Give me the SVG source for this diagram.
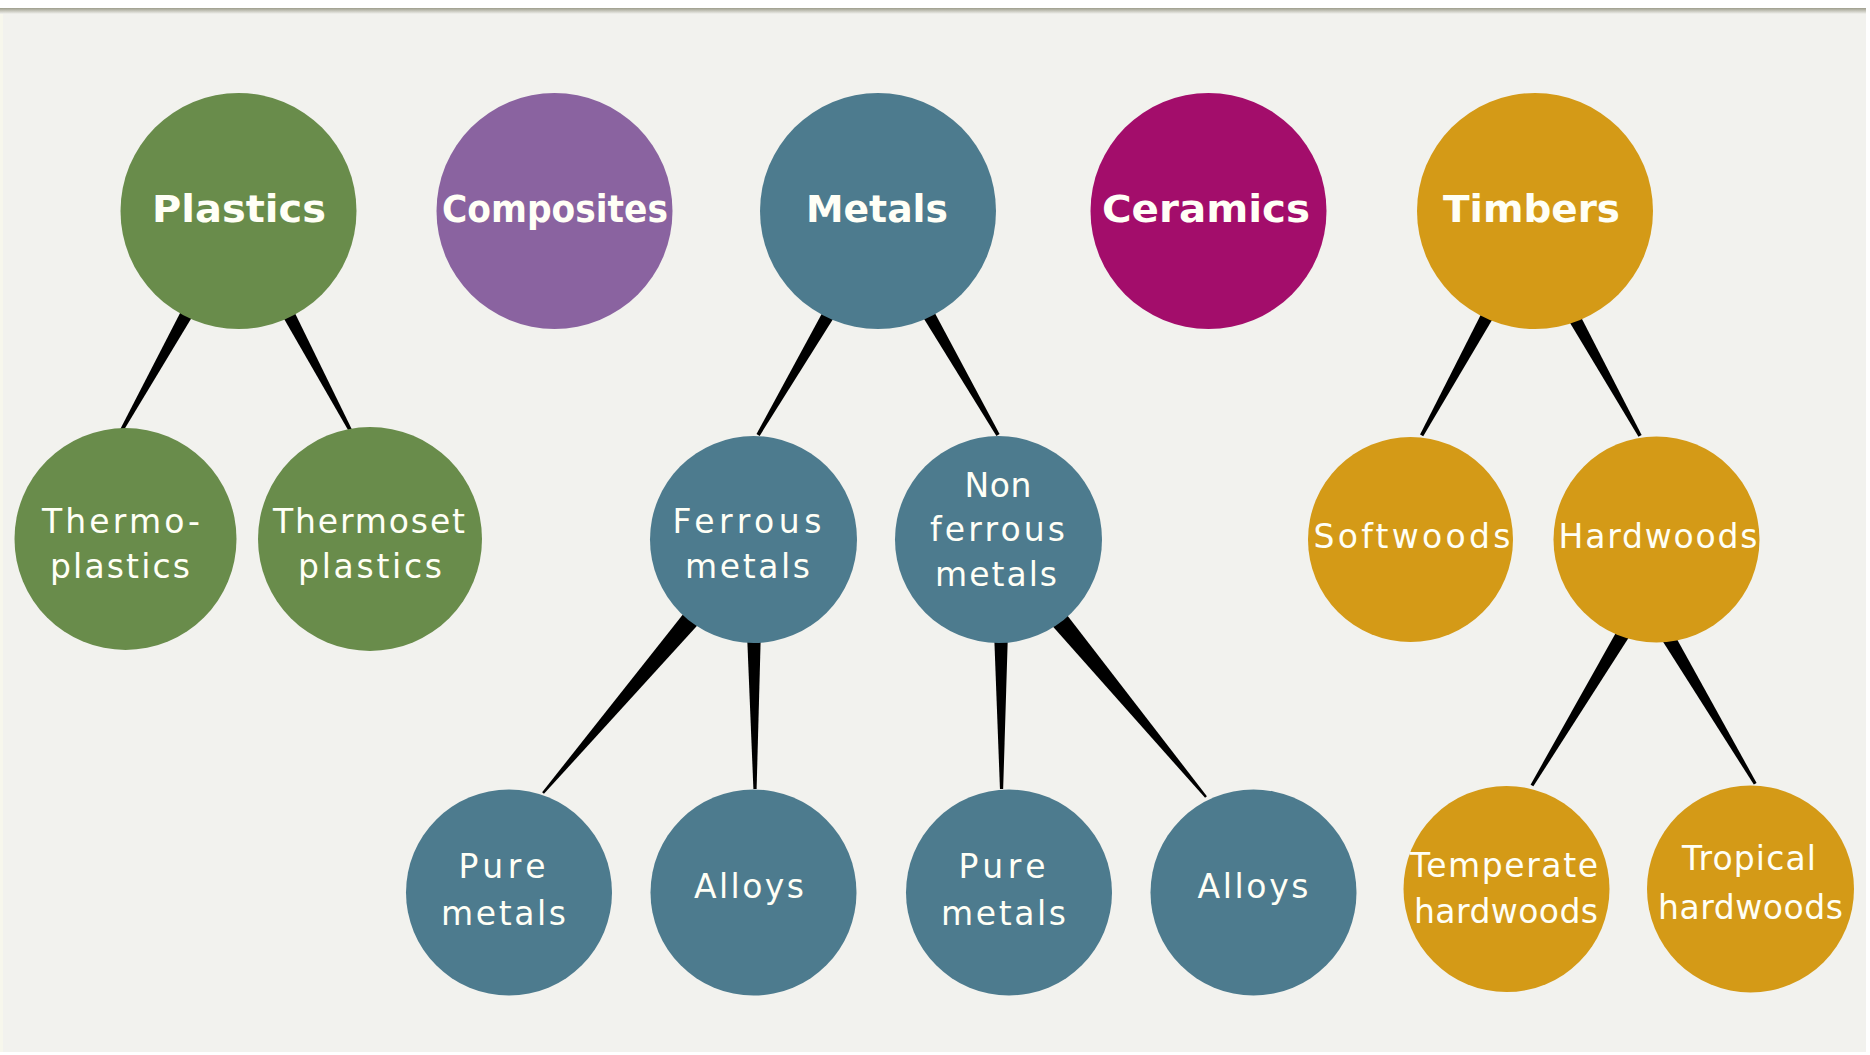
<svg xmlns="http://www.w3.org/2000/svg" width="1870" height="1055" viewBox="0 0 1870 1055">
  <defs>
    <linearGradient id="topEdge" x1="0" y1="0" x2="0" y2="1">
      <stop offset="0" stop-color="#9d9d8c"/>
      <stop offset="1" stop-color="#f2f2ee"/>
    </linearGradient>
    <!-- tapered links: wide at the parent end, thin at the child end; scaled along x to their length -->
    <polygon id="wedge" points="0,-6.5 1,-1.8 1,1.8 0,6.5" fill="#000"/>
    <polygon id="wedgeWide" points="0,-9.5 1,-1.2 1,1.2 0,9.5" fill="#000"/>
    <polygon id="wedgeStem" points="0,-7 1,-1.6 1,1.6 0,7" fill="#000"/>
  </defs>
  <style>
    .plastics { fill: #698c4b; }
    .composites { fill: #8a63a0; }
    .metals { fill: #4d7b8e; }
    .ceramics { fill: #a30d6b; }
    .timbers { fill: #d49a17; }
    text { fill: #fffff6; text-anchor: middle; }
    .t1 { font-family: "DejaVu Sans", "Liberation Sans", sans-serif; font-weight: bold; font-size: 37px; }
    .t2 { font-family: "DejaVu Sans", "Liberation Sans", sans-serif; font-size: 33px; }
  </style>

  <!-- page frame -->
  <rect x="0" y="0" width="1870" height="1055" fill="#ffffff"/>
  <rect x="0" y="8" width="1866" height="1044" fill="#f2f2ee"/>
  <rect x="0" y="8" width="1866" height="6" fill="url(#topEdge)"/>
  <rect x="0" y="14" width="3" height="1038" fill="#f7f7ec"/>

  <!-- connectors -->
  <g id="connectors">
    <use href="#wedge" transform="translate(190.8,306.5) rotate(119.15) scale(141.4,1)"/>
    <use href="#wedge" transform="translate(284.4,306.4) rotate(62) scale(139.9,1)"/>
    <use href="#wedge" transform="translate(833.1,306.6) rotate(120.3) scale(148.7,1)"/>
    <use href="#wedge" transform="translate(924,306.6) rotate(60.05) scale(148.2,1)"/>
    <use href="#wedgeWide" transform="translate(697.8,610.9) rotate(130.35) scale(239,1)"/>
    <use href="#wedgeStem" transform="translate(753.9,631) rotate(89.6) scale(158,1)"/>
    <use href="#wedgeStem" transform="translate(1001,631) rotate(89.8) scale(158,1)"/>
    <use href="#wedgeWide" transform="translate(1053.3,612.8) rotate(50.35) scale(239.3,1)"/>
    <use href="#wedge" transform="translate(1491.8,307.5) rotate(118.76) scale(145.8,1)"/>
    <use href="#wedge" transform="translate(1570.8,311.5) rotate(60.9) scale(142.4,1)"/>
    <use href="#wedgeStem" transform="translate(1626.8,627.7) rotate(121) scale(184.1,1)"/>
    <use href="#wedgeStem" transform="translate(1664.9,631.7) rotate(59.3) scale(176.9,1)"/>
  </g>

  <!-- top level materials -->
  <g id="plastics">
    <circle class="plastics" cx="238.5" cy="211" r="118"/>
    <text class="t1" x="239" y="222" textLength="174" lengthAdjust="spacingAndGlyphs">Plastics</text>
  </g>
  <g id="composites">
    <circle class="composites" cx="554.5" cy="211" r="118"/>
    <text class="t1" x="555" y="222" textLength="226" lengthAdjust="spacingAndGlyphs">Composites</text>
  </g>
  <g id="metals">
    <circle class="metals" cx="878" cy="211" r="118"/>
    <text class="t1" x="877" y="222" textLength="142" lengthAdjust="spacingAndGlyphs">Metals</text>
  </g>
  <g id="ceramics">
    <circle class="ceramics" cx="1208.5" cy="211" r="118"/>
    <text class="t1" x="1206" y="222" textLength="208" lengthAdjust="spacingAndGlyphs">Ceramics</text>
  </g>
  <g id="timbers">
    <circle class="timbers" cx="1535" cy="211" r="118"/>
    <text class="t1" x="1531.5" y="222" textLength="177" lengthAdjust="spacingAndGlyphs">Timbers</text>
  </g>

  <!-- plastics -->
  <g id="thermoplastics">
    <circle class="plastics" cx="125.5" cy="539" r="111"/>
    <text class="t2" x="121" y="533" textLength="158">Thermo-</text>
    <text class="t2" x="120" y="578" textLength="140">plastics</text>
  </g>
  <g id="thermoset-plastics">
    <circle class="plastics" cx="370" cy="539" r="112"/>
    <text class="t2" x="369" y="533" textLength="192">Thermoset</text>
    <text class="t2" x="370" y="578" textLength="144">plastics</text>
  </g>

  <!-- metals -->
  <g id="ferrous-metals">
    <circle class="metals" cx="753.5" cy="539.5" r="103.5"/>
    <text class="t2" x="747" y="533" textLength="149">Ferrous</text>
    <text class="t2" x="747.5" y="578" textLength="125">metals</text>
  </g>
  <g id="non-ferrous-metals">
    <circle class="metals" cx="998.5" cy="539.5" r="103.5"/>
    <text class="t2" x="998" y="497" textLength="67">Non</text>
    <text class="t2" x="997.5" y="541" textLength="135">ferrous</text>
    <text class="t2" x="996" y="586" textLength="122">metals</text>
  </g>
  <g id="ferrous-pure-metals">
    <circle class="metals" cx="509" cy="892.5" r="103"/>
    <text class="t2" x="502" y="878" textLength="87">Pure</text>
    <text class="t2" x="503.5" y="925" textLength="125">metals</text>
  </g>
  <g id="ferrous-alloys">
    <circle class="metals" cx="753.5" cy="892.5" r="103"/>
    <text class="t2" x="749" y="898" textLength="110">Alloys</text>
  </g>
  <g id="non-ferrous-pure-metals">
    <circle class="metals" cx="1009" cy="892.5" r="103"/>
    <text class="t2" x="1002" y="878" textLength="87">Pure</text>
    <text class="t2" x="1003.5" y="925" textLength="125">metals</text>
  </g>
  <g id="non-ferrous-alloys">
    <circle class="metals" cx="1253.5" cy="892.5" r="103"/>
    <text class="t2" x="1253" y="898" textLength="111">Alloys</text>
  </g>

  <!-- timbers -->
  <g id="softwoods">
    <circle class="timbers" cx="1410.5" cy="539.5" r="102.5"/>
    <text class="t2" x="1412" y="548" textLength="197">Softwoods</text>
  </g>
  <g id="hardwoods">
    <circle class="timbers" cx="1656.5" cy="539.5" r="103"/>
    <text class="t2" x="1658" y="548" textLength="199">Hardwoods</text>
  </g>
  <g id="temperate-hardwoods">
    <circle class="timbers" cx="1506.5" cy="889" r="103"/>
    <text class="t2" x="1504" y="877" textLength="188">Temperate</text>
    <text class="t2" x="1506" y="923" textLength="184">hardwoods</text>
  </g>
  <g id="tropical-hardwoods">
    <circle class="timbers" cx="1750.5" cy="889" r="103.5"/>
    <text class="t2" x="1749" y="870" textLength="134">Tropical</text>
    <text class="t2" x="1750.5" y="919" textLength="185">hardwoods</text>
  </g>
</svg>
